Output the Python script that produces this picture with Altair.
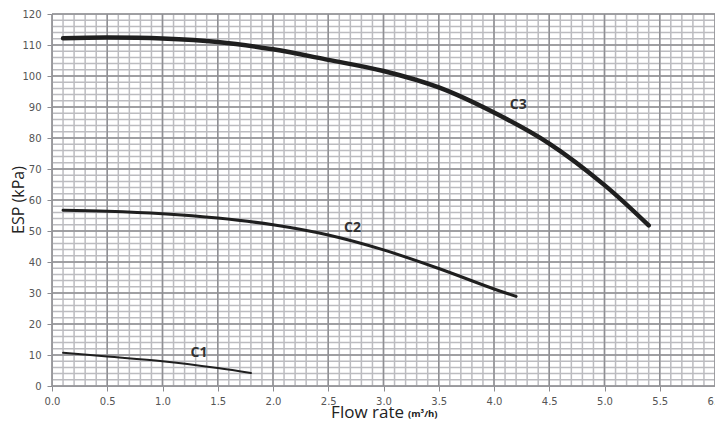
import altair as alt
import pandas as pd

# Curve data
c1_x = [0.1, 0.5, 1.0, 1.5, 1.8]
c1_y = [10.7, 9.5, 8.0, 5.8, 4.2]

c2_x = [0.1, 0.5, 1.0, 1.5, 2.0, 2.5, 3.0, 3.5, 4.0, 4.2]
c2_y = [56.7, 56.4, 55.6, 54.2, 52.0, 48.7, 43.9, 37.9, 31.3, 28.9]

c3_x = [0.1, 0.5, 1.0, 1.5, 2.0, 2.5, 3.0, 3.5, 4.0, 4.5, 5.0, 5.4]
c3_y = [112.2, 112.4, 112.1, 111.0, 108.6, 105.2, 101.6, 96.3, 88.2, 78.2, 64.8, 51.8]

labels = ["C1", "C2", "C3"]
label_x = [1.33, 2.72, 4.22]
label_y = [10.8, 51.1, 90.5]

x_ticks = [0.0, 0.5, 1.0, 1.5, 2.0, 2.5, 3.0, 3.5, 4.0, 4.5, 5.0, 5.5, 6.0]
y_ticks = [0, 10, 20, 30, 40, 50, 60, 70, 80, 90, 100, 110, 120]
x_minor = [round(i * 0.1, 1) for i in range(61)]
y_minor = [i * 2 for i in range(61)]

W, H = 663, 372
xs = alt.Scale(domain=[0, 6], nice=False, zero=False)
ys = alt.Scale(domain=[0, 120], nice=False)

x_axis = alt.Axis(
    values=x_ticks, format=".1f", title=None, grid=False, labelFlush=False,
    tickSize=5, tickColor="#8c8c90", domainColor="#8c8c90",
    labelFont="DejaVu Sans", labelFontSize=10, labelColor="#555555", labelPadding=5)
y_axis = alt.Axis(
    values=y_ticks, format="d", title=None, grid=False, labelFlush=False,
    tickSize=5, tickColor="#8c8c90", domainColor="#8c8c90",
    labelFont="DejaVu Sans", labelFontSize=10, labelColor="#555555", labelPadding=6)

curves = pd.DataFrame({
    "x": c1_x + c2_x + c3_x,
    "y": c1_y + c2_y + c3_y,
    "c": ["C1"] * len(c1_x) + ["C2"] * len(c2_x) + ["C3"] * len(c3_x),
})

gx_minor = alt.Chart(pd.DataFrame({"x": x_minor})).mark_rule(
    color="#bcbcc0", strokeWidth=1.5
).encode(x=alt.X("x:Q", scale=xs, axis=x_axis))
gy_minor = alt.Chart(pd.DataFrame({"y": y_minor})).mark_rule(
    color="#bcbcc0", strokeWidth=1.5
).encode(y=alt.Y("y:Q", scale=ys, axis=y_axis))
gx_major = alt.Chart(pd.DataFrame({"x": x_ticks})).mark_rule(
    color="#909094", strokeWidth=1.5
).encode(x=alt.X("x:Q", scale=xs, axis=x_axis))
gy_major = alt.Chart(pd.DataFrame({"y": y_ticks})).mark_rule(
    color="#909094", strokeWidth=1.5
).encode(y=alt.Y("y:Q", scale=ys, axis=y_axis))

def curve(name, width):
    return alt.Chart(curves[curves["c"] == name]).mark_line(
        color="#1f1f1f", strokeWidth=width, interpolate="catmull-rom", strokeCap="round"
    ).encode(
        x=alt.X("x:Q", scale=xs, axis=x_axis),
        y=alt.Y("y:Q", scale=ys, axis=y_axis),
    )

lbl = alt.Chart(pd.DataFrame({"t": labels, "x": label_x, "y": label_y})).mark_text(
    font="Open Sans", fontSize=14, fontWeight="bold", color="#333333"
).encode(x=alt.X("x:Q", scale=xs, axis=x_axis), y=alt.Y("y:Q", scale=ys, axis=y_axis), text="t:N")

ytitle = alt.Chart(pd.DataFrame({"t": ["ESP (kPa)"]})).mark_text(
    font="Open Sans", fontSize=16, color="#222222", angle=270, align="center", baseline="middle"
).encode(x=alt.value(-33), y=alt.value(H / 2), text="t:N")

t1 = alt.Chart(pd.DataFrame({"t": ["Flow rate"]})).mark_text(
    font="Open Sans", fontSize=17, color="#222222", align="right", baseline="alphabetic"
).encode(x=alt.value(352), y=alt.value(404), text="t:N")
t2 = alt.Chart(pd.DataFrame({"t": ["(m³/h)"]})).mark_text(
    font="Open Sans", fontSize=9.5, fontWeight="bold", color="#222222", align="left", baseline="alphabetic"
).encode(x=alt.value(356), y=alt.value(403), text="t:N")

chart = alt.layer(
    gx_minor, gy_minor, gx_major, gy_major,
    curve("C1", 2), curve("C2", 3), curve("C3", 4.5),
    lbl, ytitle, t1, t2,
).properties(
    width=W, height=H, autosize="none",
    padding={"left": 44, "top": 6, "right": 0, "bottom": 33},
).configure_view(stroke=None).configure(background="white")

chart.save("out.html", embed_options={"renderer": "svg", "actions": False})
